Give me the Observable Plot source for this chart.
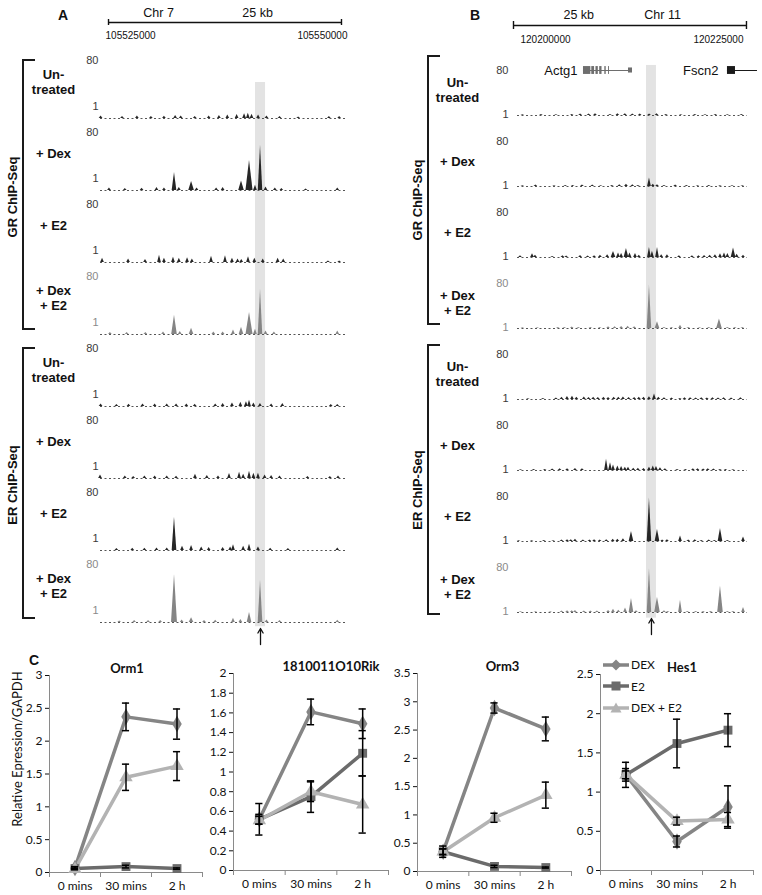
<!DOCTYPE html>
<html><head><meta charset="utf-8">
<script src="https://cdn.jsdelivr.net/npm/d3@7"></script>
<script src="https://cdn.jsdelivr.net/npm/@observablehq/plot@0.6"></script>
<style>
body{margin:0;background:#fff;}
#fig{position:relative;width:762px;height:895px;overflow:hidden;background:#fff;font-family:"Liberation Sans",Arial,sans-serif;color:#111;}
.letter{position:absolute;font-weight:bold;font-size:14px;transform:translate(-50%,-50%);}
.bracket{position:absolute;border:2px solid #1a1a1a;border-right:none;width:13px;box-sizing:border-box;}
.grp{position:absolute;font-weight:bold;font-size:13px;white-space:nowrap;transform:translate(-50%,-50%) rotate(-90deg);}
.ytitle{position:absolute;font-family:Lato,"Open Sans",sans-serif;font-size:13px;white-space:nowrap;transform:translate(-50%,-50%) rotate(-90deg);}
.legend{position:absolute;font-family:Lato,"Open Sans",sans-serif;font-size:12px;}
.legend div{height:21.5px;display:flex;align-items:center;}
.legend svg{margin-right:2px;}
</style>
</head><body><div id="fig"></div>
<script>
// ---------------- Panel A (Chr 7) ----------------
const headerA = ["Chr 7", "25 kb"];
const scaleStartA = 105525000, scaleEndA = 105550000;
const windowA = [105524140, 105550430];
const highlightA = [105540770, 105541850];
// ---------------- Panel B (Chr 11) ----------------
const headerB = ["25 kb", "Chr 11"];
const scaleStartB = 120200000, scaleEndB = 120225000;
const windowB = [120200430, 120225110];
const highlightB = [120214270, 120215340];
const geneNames = ["Actg1", "Fscn2"];
const geneSpansKb = [[7.51, 12.77], [22.96, 26.18]];
const geneThickExonsKb = [[[7.51, 8.3], [8.4, 8.7], [8.85, 9.1], [9.25, 9.5], [9.8, 9.95], [10.2, 10.3]], [[22.96, 23.82]]];
const geneThinExonsKb = [[[12.34, 12.77]], []];

const tracks = ["GR untreated", "GR dex", "GR e2", "GR dex+e2", "ER untreated", "ER dex", "ER e2", "ER dex+e2"];
const treatmentLabels = ["Un-\ntreated", "+ Dex", "+ E2", "+ Dex\n+ E2", "Un-\ntreated", "+ Dex", "+ E2", "+ Dex\n+ E2"];
const groupLabels = ["GR ChIP-Seq", "ER ChIP-Seq"];
const trackTicks = [1, 80];

// peaks: [kb offset from scale start, signal, half width kb]
const grA_untreated = [[-0.8,0.38],[1.5,0.36],[3.1,0.38],[4.6,0.36],[6.0,0.37],[7.2,0.4],[7.8,0.38],[9.3,0.36],[10.8,0.38],[11.9,0.4],[12.8,0.42],[13.8,0.44],[14.6,0.47],[15.0,0.5],[15.4,0.45],[16.1,0.42],[17.0,0.38],[18.4,0.36],[20.4,0.35],[23.7,0.36],[24.8,0.36]];
const grA_dex = [[0.1,0.38],[1.8,0.36],[3.6,0.37],[5.2,0.4],[6.0,0.38],[7.08,1.7,0.25],[7.6,0.4],[8.91,0.72,0.3],[9.5,0.38],[11.6,0.38],[12.3,0.4],[14.27,0.75,0.3],[15.13,5.4,0.38],[15.77,0.5],[16.31,23,0.24],[16.9,0.42],[17.9,0.38],[18.6,0.36],[21.2,0.35],[24.6,0.38]];
const grA_e2 = [[-0.64,0.45],[2.15,0.42],[3.97,0.4],[5.47,0.6],[6.0,0.45],[6.97,0.5],[7.6,0.45],[8.48,0.47],[9.0,0.42],[11.05,0.55],[12.55,0.58],[13.3,0.45],[13.9,0.42],[14.3,0.4],[15.02,0.52],[15.7,0.45],[16.6,0.42],[18.2,0.45],[18.8,0.42],[23.6,0.35],[24.8,0.35]];
const grA_dexE2 = [[0.2,0.36],[2.0,0.36],[4.0,0.36],[5.9,0.38],[7.08,1.9,0.3],[7.7,0.4],[8.91,0.55,0.25],[11.3,0.38],[12.3,0.38],[13.41,0.46],[14.27,0.6,0.25],[15.13,2.5,0.38],[15.77,0.5],[16.31,23,0.24],[16.9,0.42],[17.8,0.38],[24.6,0.42]];
const erA_untreated = [[-0.8,0.38],[0.9,0.36],[2.2,0.37],[3.7,0.38],[5.0,0.38],[6.3,0.38],[7.3,0.38],[8.4,0.38],[9.3,0.37],[11.5,0.38],[12.3,0.4],[13.3,0.42],[14.2,0.45],[14.8,0.47],[15.13,0.55],[15.6,0.42],[16.3,0.4],[17.5,0.38],[18.7,0.4],[23.9,0.36],[24.6,0.36]];
const erA_dex = [[-0.86,0.42],[1.8,0.38],[2.7,0.36],[3.9,0.38],[5.0,0.38],[6.3,0.38],[7.3,0.37],[9.33,0.45],[10.6,0.4],[11.8,0.38],[12.98,0.48],[14.06,0.55],[14.5,0.45],[15.13,0.6],[15.6,0.5],[16.09,0.5],[16.8,0.42],[17.5,0.4],[18.4,0.38],[21.4,0.36],[23.8,0.36],[24.68,0.38]];
const erA_e2 = [[0.9,0.36],[2.6,0.37],[3.9,0.37],[5.2,0.38],[6.3,0.38],[7.08,7.3,0.25],[7.94,0.45],[8.91,0.48],[10.0,0.42],[10.8,0.4],[12.3,0.4],[13.1,0.42],[13.41,0.52],[14.5,0.45],[15.13,0.55],[16.09,0.42],[17.4,0.37],[19.3,0.36],[24.6,0.38]];
const erA_dexE2 = [[1.2,0.35],[2.8,0.36],[4.3,0.36],[5.6,0.36],[7.08,30,0.32],[7.9,0.38],[8.91,0.47,0.25],[10.3,0.36],[11.5,0.37],[13.41,0.45],[14.2,0.4],[15.13,0.78,0.25],[16.31,17,0.25],[17.0,0.38],[18.4,0.36],[24.6,0.37]];

const grB_untreated = [[1.0,1.5],[3.0,2],[4.6,1.5],[6.3,2],[7.2,2.5],[8.1,2.5],[8.8,3],[10.4,2],[11.2,3],[12.0,3],[12.8,2.5],[13.6,2.5],[14.6,2.5],[15.4,3],[16.4,2],[18.0,1.5],[19.5,2],[20.6,1.5],[21.7,2],[23.0,1.5],[24.5,2]];
const grB_dex = [[1.0,1.5],[2.4,2.5],[4.4,1.5],[5.6,2],[6.4,2],[7.4,2.5],[8.5,2.5],[9.4,1.5],[10.6,2],[11.4,3],[12.12,4],[12.8,3],[13.4,2],[14.59,15,0.2],[15.0,4],[15.45,3],[16.2,2],[17.4,2.5],[18.6,2],[19.8,1.5],[21.0,2],[22.2,1.5],[23.5,1.5],[24.6,1.5]];
const grB_e2 = [[0.75,3],[2.04,6.5],[2.36,4],[4.2,2],[5.3,3],[5.7,2.5],[7.19,3.5],[8.0,2.5],[8.7,3],[9.33,4],[10.1,5],[10.73,10.6,0.25],[11.27,8],[11.6,7],[12.12,16,0.25],[12.5,8],[13.09,7],[13.5,4],[14.59,18,0.2],[14.91,11],[15.45,18,0.2],[15.9,5],[16.52,5],[17.8,3],[19.2,3],[19.9,3],[20.5,3.5],[21.1,4],[21.67,5],[22.21,6.5],[22.64,8],[23.0,7],[23.61,17,0.25],[24.0,6],[24.68,4]];
const grB_dexE2 = [[1.0,1.5],[2.6,1.5],[4.8,2],[5.5,2],[6.3,2.5],[7.0,2],[8.3,2],[9.3,2],[10.2,3],[10.9,3],[11.6,3.5],[12.3,4],[13.0,3],[14.59,77,0.24],[15.45,12,0.25],[16.2,2],[17.0,2],[17.92,6,0.2],[18.8,2],[20.0,1.5],[21.0,2],[22.1,17,0.3],[23.0,2],[23.8,2],[24.6,2]];
const erB_untreated = [[1.6,1.5],[3.2,2],[4.6,2.5],[5.2,4],[5.79,5.5],[6.33,6],[6.8,4],[7.6,4.5],[8.1,3.5],[8.6,4],[9.1,3.5],[9.7,4],[10.2,3.5],[10.8,4],[11.3,4],[11.8,4.5],[12.4,3.5],[13.0,3.5],[13.5,4],[14.0,4],[14.59,5],[15.13,10,0.2],[15.6,4],[16.2,3],[17.0,2.5],[17.9,2],[18.4,3],[19.0,3],[19.6,2.5],[20.2,3],[20.8,2.5],[21.4,3],[22.0,2.5],[22.6,3],[23.4,2.5],[24.4,3]];
const erB_dex = [[0.8,1.5],[2.2,2],[3.4,2],[4.2,2.5],[5.0,3],[5.8,3],[6.65,3.5],[7.4,3],[9.98,20,0.2],[10.41,14,0.2],[10.73,10,0.2],[11.2,8],[11.6,7],[12.0,6],[12.34,6],[12.9,4],[13.4,4],[14.0,3.5],[14.59,6],[15.0,8],[15.34,7],[15.77,5],[16.3,3],[17.6,2],[18.5,2],[19.3,3],[19.8,3],[20.4,2.5],[20.9,3],[21.5,2.5],[22.2,2],[22.8,2],[23.6,1.5]];
const erB_e2 = [[0.6,1.5],[2.0,1.5],[3.3,2],[4.3,1.5],[5.2,2.5],[5.8,3],[6.2,3],[6.65,4],[7.5,2.5],[8.2,2.5],[8.7,3],[9.3,2.5],[10.0,3],[10.7,4],[11.2,4],[11.8,5],[12.66,18,0.25],[14.59,77,0.24],[15.45,22,0.25],[16.0,2.5],[16.52,3],[17.92,10,0.2],[18.8,2.5],[19.5,3],[20.2,2],[21.0,2.5],[21.6,2],[22.21,23,0.25],[23.0,2],[24.68,8,0.2]];
const erB_dexE2 = [[0.8,1.5],[2.4,1.5],[4.0,1.5],[5.2,2.5],[5.8,3],[6.3,3],[6.65,3.5],[7.6,2.5],[8.3,2.5],[9.0,2.5],[10.2,3.5],[10.73,6],[11.3,4],[12.02,8],[12.66,25,0.25],[13.2,3],[14.59,78,0.24],[15.45,27,0.3],[16.2,3],[16.6,2],[17.92,22,0.2],[18.7,2],[19.6,2],[20.4,2],[21.2,2],[22.21,47,0.3],[23.0,2],[23.6,2],[24.68,9,0.2]];

// ---------------- Panel C ----------------
const categories = ["0 mins", "30 mins", "2 h"];
const seriesNames = ["DEX", "E2", "DEX + E2"];
const orm1_DEX = [0.07, 2.37, 2.26], orm1_DEX_err = [0.02, 0.21, 0.23];
const orm1_E2 = [0.06, 0.09, 0.06], orm1_E2_err = [0.01, 0.02, 0.01];
const orm1_DEXE2 = [0.05, 1.45, 1.62], orm1_DEXE2_err = [0.01, 0.2, 0.22];
const rik_DEX = [0.52, 1.61, 1.49], rik_DEX_err = [0.16, 0.13, 0.15];
const rik_E2 = [0.52, 0.75, 1.19], rik_E2_err = [0.05, 0.16, 0.23];
const rik_DEXE2 = [0.51, 0.8, 0.67], rik_DEXE2_err = [0.04, 0.1, 0.29];
const orm3_DEX = [0.35, 2.89, 2.52], orm3_DEX_err = [0.1, 0.09, 0.21];
const orm3_E2 = [0.35, 0.09, 0.07], orm3_E2_err = [0.05, 0.02, 0.01];
const orm3_DEXE2 = [0.35, 0.95, 1.35], orm3_DEXE2_err = [0.05, 0.08, 0.23];
const hes1_DEX = [1.22, 0.37, 0.81], hes1_DEX_err = [0.16, 0.07, 0.27];
const hes1_E2 = [1.22, 1.62, 1.79], hes1_E2_err = [0.08, 0.31, 0.21];
const hes1_DEXE2 = [1.22, 0.63, 0.65], hes1_DEXE2_err = [0.05, 0.05, 0.09];
const orm1_ticks = [0, 0.5, 1, 1.5, 2, 2.5, 3];
const rik_ticks = [0, 0.2, 0.4, 0.6, 0.8, 1, 1.2, 1.4, 1.6, 1.8, 2];
const orm3_ticks = [0, 0.5, 1, 1.5, 2, 2.5, 3, 3.5];
const hes1_ticks = [0, 0.5, 1, 1.5, 2, 2.5];

// ================= drawing =================
const fig = document.getElementById("fig");
const fontAB = "'Liberation Sans', Arial, sans-serif";
function place(el, left, top) { el.style.position = "absolute"; el.style.left = left + "px"; el.style.top = top + "px"; fig.appendChild(el); return el; }
function html(cls, text, left, top, extra = {}) { const d = document.createElement("div"); d.className = cls; d.textContent = text; d.style.left = left + "px"; d.style.top = top + "px"; Object.assign(d.style, extra); fig.appendChild(d); return d; }
const comboTracks = new Set([tracks[3], tracks[7]]);

function peakPoints(lists, origin, base) {
  const pts = [];
  lists.forEach((list, t) => list.forEach(([kb, h, w = 0.2], k) => {
    const id = t + "-" + k, c = origin + kb * 1000, hw = w * 1000;
    pts.push({track: tracks[t], id, x: c - hw, y: base}, {track: tracks[t], id, x: c, y: h}, {track: tracks[t], id, x: c + hw, y: base});
  }));
  return pts;
}

function trackPlot(o) {
  const pts = peakPoints(o.lists, o.origin, o.base);
  const bands = tracks.map((t, i) => ({track: t, lo: i === tracks.length - 1 ? o.bandLoLast : o.bandLo, hi: i === 0 ? o.bandHiFirst : o.bandHi}));
  const tickRows = tracks.flatMap(t => trackTicks.map(v => ({track: t, v})));
  const marks = [
    Plot.rect(bands, {fy: "track", x1: o.band[0], x2: o.band[1], y1: "lo", y2: "hi", fill: "#e3e3e3"}),
    Plot.ruleY(tracks, {fy: d => d, y: o.base, stroke: "#555", strokeWidth: 1, strokeDasharray: "2,2.5"}),
    Plot.areaY(pts.filter(p => !comboTracks.has(p.track)), {fy: "track", x: "x", y1: o.base, y2: "y", z: "id", fill: "#262626"}),
    Plot.areaY(pts.filter(p => comboTracks.has(p.track)), {fy: "track", x: "x", y1: o.base, y2: "y", z: "id", fill: "#858585"}),
    Plot.text(tickRows.filter(r => !comboTracks.has(r.track)), {fy: "track", y: "v", text: d => String(d.v), frameAnchor: "left", textAnchor: "end", dx: o.tickDx, fontSize: 11, fill: "#3a3a3a"}),
    Plot.text(tickRows.filter(r => comboTracks.has(r.track)), {fy: "track", y: "v", text: d => String(d.v), frameAnchor: "left", textAnchor: "end", dx: o.tickDx, fontSize: 11, fill: "#8a8a8a"}),
    Plot.text(tracks, {fy: d => d, text: (d, i) => treatmentLabels[i], frameAnchor: "left", textAnchor: "middle", dx: o.labelDx, dy: o.labelDy, fontWeight: "bold", fontSize: 13, lineHeight: 1.15, fill: "#111"}),
    ...(o.extra || [])
  ];
  return Plot.plot({
    width: o.width, height: o.height,
    marginLeft: o.marginLeft, marginRight: o.marginRight, marginTop: o.marginTop, marginBottom: o.marginBottom,
    x: {domain: o.domain, axis: null},
    y: {type: o.yType, domain: o.yDomain, insetTop: o.insetTop, insetBottom: 2, axis: null},
    fy: {domain: tracks, padding: 0, axis: null},
    facet: {margin: 0},
    style: {background: "transparent", overflow: "visible", fontFamily: fontAB},
    marks
  });
}

function scaleBar(o) {
  const span = o.end - o.start;
  return Plot.plot({
    width: o.width, height: 44, marginLeft: o.marginLeft, marginRight: o.marginRight, marginTop: 0, marginBottom: 0,
    x: {domain: o.domain, axis: null},
    y: {domain: [-1, 1], range: o.yRange, axis: null},
    style: {background: "transparent", overflow: "visible", fontFamily: fontAB},
    marks: [
      Plot.ruleY([0], {x1: o.start, x2: o.end, stroke: "#111", strokeWidth: 1.4}),
      Plot.ruleX([o.start, o.end], {y1: -1, y2: 1, stroke: "#111", strokeWidth: 1.4}),
      Plot.text([o.start], {x: d => d, y: -1, text: d => String(d), dy: 10, dx: o.startDx, textAnchor: "start", fontSize: 10, fill: "#111"}),
      Plot.text([o.end], {x: d => d, y: -1, text: d => String(d), dy: 10, dx: o.endDx, textAnchor: "end", fontSize: 10, fill: "#111"}),
      Plot.text(o.header, {x: (d, i) => o.start + o.headerPos[i] * span, y: 1, dy: -7, text: d => d, fontSize: 12.5, fill: "#111"})
    ]
  });
}

function arrowPlot(domain, band, width, ml, mr) {
  return Plot.plot({
    width, height: 24, marginLeft: ml, marginRight: mr, marginTop: 0, marginBottom: 0,
    x: {domain, axis: null}, y: {domain: [0, 1], range: [20, 4], axis: null},
    style: {background: "transparent", overflow: "visible"},
    marks: [Plot.arrow([(band[0] + band[1]) / 2], {x1: d => d, x2: d => d, y1: 0, y2: 1, stroke: "#111", strokeWidth: 1.3, headLength: 6})]
  });
}

// Panel A
place(scaleBar({width: 380, marginLeft: 100, marginRight: 35, domain: windowA, start: scaleStartA, end: scaleEndA, yRange: [25, 19], header: headerA, headerPos: [0.215, 0.64], startDx: -3, endDx: 6}), 0, 0);
place(trackPlot({
  lists: [grA_untreated, grA_dex, grA_e2, grA_dexE2, erA_untreated, erA_dex, erA_e2, erA_dexE2],
  origin: scaleStartA, base: 0.3, yType: "log", yDomain: [0.3, 80], insetTop: 12,
  width: 380, height: 588, marginLeft: 100, marginRight: 35, marginTop: 8, marginBottom: 4,
  domain: windowA, band: highlightA, bandLo: 0.24, bandLoLast: 0.2, bandHiFirst: 9.6, bandHi: 300,
  tickDx: -2, labelDx: -47, labelDy: -3
}), 0, 40);
place(arrowPlot(windowA, highlightA, 380, 100, 35), 0, 624);

// Panel B
const geneRows = geneNames.map((name, g) => ({name, track: tracks[0], x1: scaleStartB + geneSpansKb[g][0] * 1000, x2: scaleStartB + geneSpansKb[g][1] * 1000, color: g === 0 ? "#6e6e6e" : "#1a1a1a"}));
const thickRows = geneThickExonsKb.flatMap((ex, g) => ex.map(([a, b]) => ({g, track: tracks[0], x1: scaleStartB + a * 1000, x2: scaleStartB + b * 1000})));
const thinRows = geneThinExonsKb.flatMap((ex, g) => ex.map(([a, b]) => ({g, track: tracks[0], x1: scaleStartB + a * 1000, x2: scaleStartB + b * 1000})));
const geneMarks = [0, 1].flatMap(g => {
  const col = g === 0 ? "#6e6e6e" : "#1a1a1a";
  return [
    Plot.ruleY(geneRows.filter((r, i) => i === g), {fy: "track", y: 80, x1: "x1", x2: "x2", stroke: col, strokeWidth: 1}),
    Plot.rect(thickRows.filter(r => r.g === g), {fy: "track", x1: "x1", x2: "x2", y1: 73, y2: 87, fill: col}),
    Plot.rect(thinRows.filter(r => r.g === g), {fy: "track", x1: "x1", x2: "x2", y1: 75.5, y2: 84.5, fill: col}),
    Plot.text(geneRows.filter((r, i) => i === g), {fy: "track", x: "x1", y: 80, text: "name", textAnchor: "end", dx: g === 0 ? -6 : -9, fontSize: 13, fill: "#111"})
  ];
});
place(scaleBar({width: 382, marginLeft: 137, marginRight: 15, domain: windowB, start: scaleStartB, end: scaleEndB, yRange: [29, 21], header: headerB, headerPos: [0.28, 0.64], startDx: 7, endDx: -3}), 380, 0);
place(trackPlot({
  lists: [grB_untreated, grB_dex, grB_e2, grB_dexE2, erB_untreated, erB_dex, erB_e2, erB_dexE2],
  origin: scaleStartB, base: 0, yType: "linear", yDomain: [0, 80], insetTop: 24,
  width: 382, height: 578, marginLeft: 137, marginRight: 15, marginTop: 6, marginBottom: 4,
  domain: windowB, band: highlightB, bandLo: -4, bandLoLast: -10, bandHiFirst: 89, bandHi: 130,
  tickDx: -9, labelDx: -60, labelDy: 8, extra: geneMarks
}), 380, 40);
place(arrowPlot(windowB, highlightB, 382, 137, 15), 380, 614);

// Letters, brackets, group labels
html("letter", "A", 63, 15);
html("letter", "B", 475, 15);
html("letter", "C", 34, 660);
[[22, 59, 330], [22, 347, 619], [427, 55, 325], [427, 344, 615]].forEach(([l, t, b]) => { const d = document.createElement("div"); d.className = "bracket"; d.style.left = l + "px"; d.style.top = t + "px"; d.style.height = (b - t) + "px"; fig.appendChild(d); });
html("grp", groupLabels[0], 12, 197);
html("grp", groupLabels[1], 12, 485);
html("grp", groupLabels[0], 417, 200);
html("grp", groupLabels[1], 417, 490);

// Panel C charts
const seriesColors = ["#858585", "#6b6b6b", "#b3b3b3"];
const seriesSymbols = ["diamond", "square", "triangle"];
function expressionChart(o) {
  const height = 245;
  const yMax = o.ticks[o.ticks.length - 1];
  const frameH = height - o.marginTop - o.marginBottom;
  const tickLen = yMax * 5 / frameH;
  const rows = o.values.flatMap((vals, s) => vals.map((v, i) => ({s, x: i + 0.5, y: v, lo: v - o.errors[s][i], hi: v + o.errors[s][i]})));
  const marks = [
    Plot.ruleX([0], {stroke: "#8a8a8a"}),
    Plot.ruleY([0], {stroke: "#8a8a8a"}),
    Plot.ruleX([0, 1, 2, 3], {y1: 0, y2: -tickLen, stroke: "#8a8a8a"})
  ];
  o.values.forEach((_, s) => marks.push(Plot.line(rows.filter(r => r.s === s), {x: "x", y: "y", stroke: seriesColors[s], strokeWidth: 3.5})));
  o.values.forEach((_, s) => marks.push(Plot.dot(rows.filter(r => r.s === s), {x: "x", y: "y", symbol: seriesSymbols[s], fill: seriesColors[s], r: 5})));
  marks.push(
    Plot.ruleX(rows, {x: "x", y1: "lo", y2: "hi", stroke: "#000", strokeWidth: 1.5}),
    Plot.ruleY(rows, {y: "hi", x1: d => d.x - 0.07, x2: d => d.x + 0.07, stroke: "#000", strokeWidth: 1.5}),
    Plot.ruleY(rows, {y: "lo", x1: d => d.x - 0.07, x2: d => d.x + 0.07, stroke: "#000", strokeWidth: 1.5}),
    Plot.text([o.title], {text: d => d, frameAnchor: "top", lineAnchor: "bottom", dy: -3, dx: o.titleDx, fontWeight: "bold", fontSize: 13, fill: "#111"})
  );
  return Plot.plot({
    width: o.width, height, marginLeft: o.marginLeft, marginRight: 2, marginTop: o.marginTop, marginBottom: o.marginBottom,
    x: {domain: [0, 3], ticks: [0.5, 1.5, 2.5], tickFormat: v => categories[Math.floor(v)], tickSize: 0, tickPadding: 9, label: null},
    y: {domain: [0, yMax], ticks: o.ticks, tickFormat: d => String(d), tickSize: 4, tickPadding: 3, label: null},
    style: {background: "transparent", overflow: "visible", fontFamily: "Lato, 'Open Sans', sans-serif", fontSize: "12px", color: "#111"},
    marks
  });
}
place(expressionChart({title: "Orm1", values: [orm1_DEX, orm1_E2, orm1_DEXE2], errors: [orm1_DEX_err, orm1_E2_err, orm1_DEXE2_err], ticks: orm1_ticks, width: 204, marginLeft: 49, marginTop: 25, marginBottom: 23, titleDx: 1}), 0, 650);
place(expressionChart({title: "1810011O10Rik", values: [rik_DEX, rik_E2, rik_DEXE2], errors: [rik_DEX_err, rik_E2_err, rik_DEXE2_err], ticks: rik_ticks, width: 200, marginLeft: 43, marginTop: 23, marginBottom: 25, titleDx: 20}), 190, 650);
place(expressionChart({title: "Orm3", values: [orm3_DEX, orm3_E2, orm3_DEXE2], errors: [orm3_DEX_err, orm3_E2_err, orm3_DEXE2_err], ticks: orm3_ticks, width: 193, marginLeft: 37, marginTop: 23, marginBottom: 24, titleDx: 8}), 380, 650);
place(expressionChart({title: "Hes1", values: [hes1_DEX, hes1_E2, hes1_DEXE2], errors: [hes1_DEX_err, hes1_E2_err, hes1_DEXE2_err], ticks: hes1_ticks, width: 190, marginLeft: 35, marginTop: 24, marginBottom: 25, titleDx: 5}), 565, 650);
html("ytitle", "Relative Epression/GAPDH", 17, 749);

// Legend (Hes1)
const legend = document.createElement("div");
legend.className = "legend";
legend.style.left = "603px"; legend.style.top = "654px";
const symbolPaths = {
  diamond: '<polygon points="13,1.5 18.5,7 13,12.5 7.5,7" />',
  square: '<rect x="8.5" y="2.5" width="9" height="9" />',
  triangle: '<polygon points="13,1.5 18.5,11.5 7.5,11.5" />'
};
seriesNames.forEach((name, s) => {
  const row = document.createElement("div");
  row.innerHTML = `<svg width="26" height="14"><line x1="0" x2="26" y1="7" y2="7" stroke="${seriesColors[s]}" stroke-width="3.5"/><g fill="${seriesColors[s]}">${symbolPaths[seriesSymbols[s]]}</g></svg><span>${name}</span>`;
  legend.appendChild(row);
});
fig.appendChild(legend);
</script>
</body></html>
